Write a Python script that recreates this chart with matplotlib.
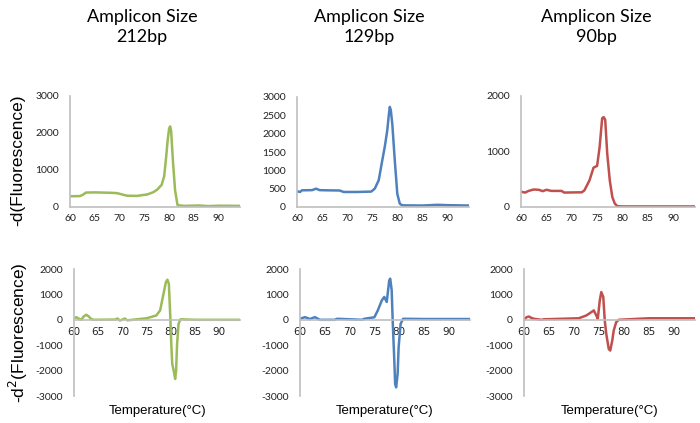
import matplotlib
matplotlib.use("Agg")
import matplotlib.pyplot as plt

plt.rcParams["axes.unicode_minus"] = False

# melt-curve readings (temperature in C, value)
t_212_d1 = [60, 62, 62.6, 63.2, 65, 68, 69.5, 71.5, 73.5, 75.6, 76.8, 77.6, 78.5, 79.0, 79.4, 79.7, 80.0, 80.2, 80.4, 80.8, 81.2, 81.7, 83, 86, 88, 90, 94.3]
v_212_d1 = [290, 295, 330, 390, 395, 385, 375, 305, 300, 340, 400, 470, 600, 830, 1350, 1800, 2120, 2180, 2060, 1180, 450, 50, 30, 40, 25, 35, 30]

t_129_d1 = [60, 60.6, 61, 63, 63.8, 64.5, 66, 68.5, 69.3, 72, 74.8, 75.5, 76.3, 77.0, 77.5, 78.0, 78.3, 78.5, 78.7, 79.0, 79.5, 80.0, 80.5, 81, 85, 88, 90, 94.3]
v_129_d1 = [430, 410, 455, 460, 500, 460, 455, 450, 410, 410, 420, 500, 730, 1270, 1640, 2090, 2500, 2730, 2650, 2270, 1270, 360, 90, 45, 40, 60, 50, 40]

t_90_d1 = [60, 60.8, 61.5, 62.5, 63.5, 64.3, 65, 66, 68, 68.5, 72, 72.5, 73.5, 74.3, 75.0, 75.5, 76.0, 76.3, 76.6, 77.0, 77.5, 78.0, 78.5, 79, 80, 85, 94.3]
v_90_d1 = [275, 260, 290, 315, 310, 285, 310, 290, 290, 260, 265, 300, 480, 710, 740, 1080, 1600, 1620, 1570, 960, 480, 180, 60, 15, 10, 10, 10]

t_212_d2 = [60, 60.5, 61, 61.5, 62, 62.5, 63, 63.5, 64, 68.5, 69, 69.5, 70, 70.5, 71, 75, 77, 77.8, 78.5, 79.0, 79.3, 79.6, 79.9, 80.1, 80.3, 80.6, 80.9, 81.1, 81.3, 81.6, 82, 85, 94.3]
v_212_d2 = [70, 100, 40, 0, 130, 200, 140, 40, 0, 10, 50, -30, 10, 50, -20, 60, 170, 370, 1030, 1490, 1580, 1420, 100, -950, -1740, -2000, -2330, -2000, -950, -160, 20, 0, 0]

t_129_d2 = [60, 61, 62, 63, 64, 67, 67.5, 72.5, 73, 75, 75.7, 76.5, 77.0, 77.5, 78.0, 78.2, 78.5, 78.7, 79.0, 79.2, 79.4, 79.7, 79.9, 80.3, 80.8, 85, 94.3]
v_129_d2 = [40, 105, 30, 105, 0, 0, 40, 0, 40, 100, 370, 760, 900, 700, 1550, 1620, 1160, -30, -1470, -2530, -2660, -2130, -1080, -160, 40, 30, 30]

t_90_d2 = [60, 60.5, 61, 61.5, 62, 63.5, 64, 71, 72.5, 73.5, 74, 74.5, 74.8, 75.2, 75.5, 75.9, 76.2, 76.5, 77.0, 77.3, 77.7, 78.0, 78.5, 79, 85, 94.3]
v_90_d2 = [0, 100, 130, 70, 40, 0, 20, 60, 170, 300, 370, 170, 40, 760, 1090, 900, -30, -550, -1150, -1210, -820, -420, -90, 0, 60, 60]

titles = ["Amplicon Size\n212bp", "Amplicon Size\n129bp", "Amplicon Size\n90bp"]
colors = ["#9BBB59", "#4F81BD", "#C0504D"]
top_ticks = [[0, 1000, 2000, 3000], [0, 500, 1000, 1500, 2000, 2500, 3000], [0, 1000, 2000]]
bottom_ticks = [-3000, -2000, -1000, 0, 1000, 2000]
x_ticks = [60, 65, 70, 75, 80, 85, 90]

top_data = [(t_212_d1, v_212_d1), (t_129_d1, v_129_d1), (t_90_d1, v_90_d1)]
bot_data = [(t_212_d2, v_212_d2), (t_129_d2, v_129_d2), (t_90_d2, v_90_d2)]

W, H = 700, 423
fig = plt.figure(figsize=(7, 4.23), dpi=100)
fig.patch.set_facecolor("white")


def px_axes(left, right, top, bottom):
    return fig.add_axes([left / W, 1 - bottom / H, (right - left) / W, (bottom - top) / H])


def style(ax, yt):
    for s in ["top", "right"]:
        ax.spines[s].set_visible(False)
    for s in ["left", "bottom"]:
        ax.spines[s].set_color("#bfbfbf")
        ax.spines[s].set_linewidth(1.2)
    ax.set_xlim(60, 94.3)
    ax.set_xticks(x_ticks)
    ax.set_yticks(yt)
    ax.tick_params(length=0, labelsize=7.5, colors="#222222")
    ax.tick_params(axis="x", pad=5)
    ax.tick_params(axis="y", pad=8)
    for lab in ax.get_xticklabels() + ax.get_yticklabels():
        lab.set_family("Lato")


top_pos = [(70, 240, 96, 207), (297, 469, 97, 207), (521, 695, 96, 207)]
bot_pos = [(74, 240, 269, 396), (300, 470, 269, 396), (524, 695, 269, 396)]
title_x = [142, 369, 596]
xlabel_x = [158, 385, 610]

for i in range(3):
    ax = px_axes(*top_pos[i])
    t, v = top_data[i]
    ax.plot(t, v, color=colors[i], lw=1.8)
    ax.set_ylim(0, top_ticks[i][-1])
    style(ax, top_ticks[i])

    ax2 = px_axes(*bot_pos[i])
    t, v = bot_data[i]
    ax2.plot(t, v, color=colors[i], lw=1.8)
    ax2.set_ylim(-3000, 2000)
    style(ax2, bottom_ticks)
    ax2.spines["bottom"].set_position(("data", 0))

    fig.text(title_x[i] / W, 1 - 27 / H, titles[i], ha="center", va="center",
             fontsize=13, family="Lato", linespacing=1.35)
    fig.text(xlabel_x[i] / W, 1 - 411 / H, "Temperature(\u00b0C)", ha="center", va="center",
             fontsize=9.5, family="Liberation Sans")

fig.text(18 / W, 1 - 160 / H, "-d(Fluorescence)", rotation=90, ha="center", va="center",
         fontsize=12.5, family="Liberation Sans")
fig.text(18 / W, 1 - 333 / H, "-d$^2$(Fluorescence)", rotation=90, ha="center", va="center",
         fontsize=12.5, family="Liberation Sans")

fig.savefig("out.png", dpi=100)
